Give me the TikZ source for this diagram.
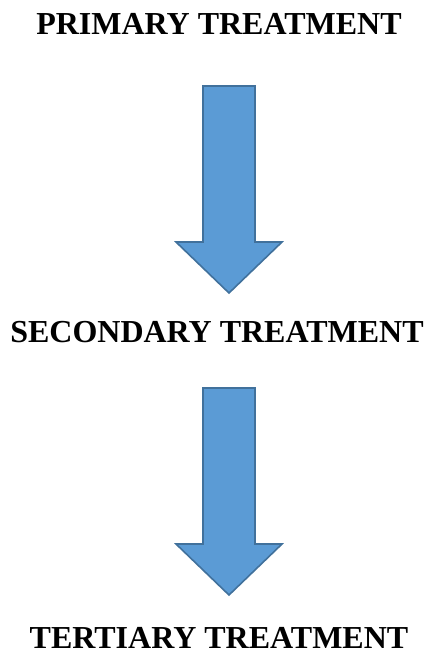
\documentclass[tikz,border=0pt]{standalone}
\usepackage{fontspec}
\setmainfont{Liberation Serif}
\definecolor{arrowfill}{HTML}{5B9BD5}
\definecolor{arrowline}{HTML}{41719C}
\tikzset{
  title/.style={font=\fontsize{32}{38}\selectfont\bfseries, anchor=base, inner sep=0pt},
  blockarrow/.style={draw=arrowline, fill=arrowfill, line width=1.6pt, line join=miter},
  downarrow/.pic={
    \draw[blockarrow] (-26,0) -- (26,0) -- (26,-156) -- (53,-156)
      -- (0,-207) -- (-53,-156) -- (-26,-156) -- cycle;
  },
}

\begin{document}
\begin{tikzpicture}[x=1pt, y=1pt]

  \useasboundingbox (0,0) rectangle (429,-650);

  \node[title] (primary) at (219,-35) {PRIMARY TREATMENT};
  \node[title] (secondary) at (217,-342) {SECONDARY TREATMENT};
  \node[title] (tertiary) at (219,-648) {TERTIARY TREATMENT};

  \coordinate (arr1) at (229,-86);
  \coordinate (arr2) at (229,-388);

  \pic at (arr1) {downarrow};
  \pic at (arr2) {downarrow};

\end{tikzpicture}
\end{document}
